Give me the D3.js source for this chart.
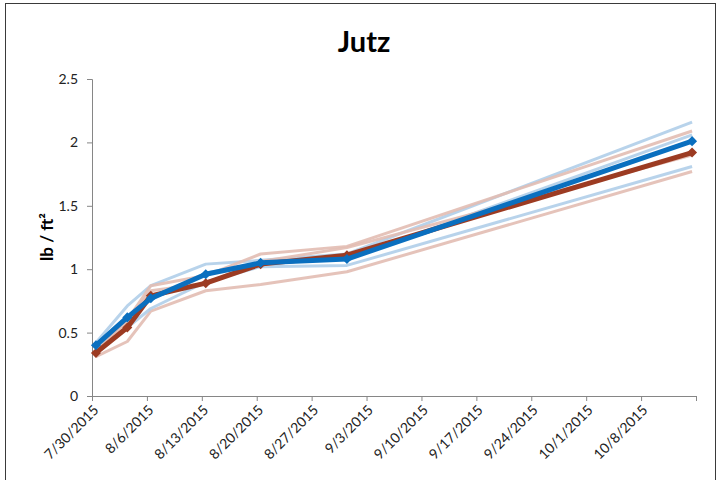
<!DOCTYPE html>
<html>
<head>
<meta charset="utf-8">
<script src="https://cdn.jsdelivr.net/npm/d3@7/dist/d3.min.js"></script>
<style>
  html, body { margin: 0; padding: 0; background: #fff; }
  svg { display: block; font-family: Lato, "Liberation Sans", sans-serif; }
</style>
</head>
<body>
<svg id="chart" width="718" height="480"></svg>
<script>
// Sampling dates and biomass (lb / ft²)
const sampleDates = ["2015-07-30", "2015-08-03", "2015-08-06", "2015-08-13", "2015-08-20", "2015-08-31", "2015-10-14"];

// Blue treatment: replicates and mean
const blueRep1 = [0.42, 0.71, 0.87, 1.04, 1.07, 1.12, 2.16];
const blueRep2 = [0.40, 0.62, 0.76, 0.97, 1.05, 1.08, 2.06];
const blueRep3 = [0.38, 0.54, 0.69, 0.90, 1.02, 1.03, 1.81];
const blueMean = [0.40, 0.62, 0.77, 0.96, 1.05, 1.08, 2.01];

// Red treatment: replicates and mean
const redRep1 = [0.36, 0.60, 0.87, 0.95, 1.12, 1.18, 2.09];
const redRep2 = [0.31, 0.43, 0.67, 0.83, 0.88, 0.98, 1.77];
const redRep3 = [0.35, 0.59, 0.83, 0.89, 1.06, 1.17, 1.90];
const redMean = [0.34, 0.54, 0.79, 0.89, 1.04, 1.11, 1.92];

// Axis ticks
const xTickDates = ["2015-07-30", "2015-08-06", "2015-08-13", "2015-08-20", "2015-08-27", "2015-09-03",
                    "2015-09-10", "2015-09-17", "2015-09-24", "2015-10-01", "2015-10-08", "2015-10-15"];
const xTickLabels = ["7/30/2015", "8/6/2015", "8/13/2015", "8/20/2015", "8/27/2015", "9/3/2015",
                     "9/10/2015", "9/17/2015", "9/24/2015", "10/1/2015", "10/8/2015", ""];
const yTicks = [0, 0.5, 1, 1.5, 2, 2.5];

const title = "Jutz";
const yTitle = "lb / ft²";

const parse = d3.utcParse("%Y-%m-%d");
const svg = d3.select("#chart");

// Outer chart frame
svg.append("rect")
  .attr("x", 5.5).attr("y", 3.5)
  .attr("width", 710).attr("height", 490)
  .attr("fill", "none").attr("stroke", "#3a3a3a").attr("stroke-width", 1);

const x = d3.scaleUtc()
  .domain([parse(xTickDates[0]), parse(xTickDates[xTickDates.length - 1])])
  .range([92, 696]);
const y = d3.scaleLinear().domain([0, 2.5]).range([396, 79]);

// Each day's value sits in the middle of its day on the date axis
const xPos = date => x(d3.utcHour.offset(date, 12));

// Title
svg.append("text")
  .attr("x", 364).attr("y", 52)
  .attr("text-anchor", "middle")
  .attr("font-size", 29).attr("font-weight", "bold")
  .attr("fill", "#000")
  .text(title);

// Y axis
const yAxis = svg.append("g")
  .attr("transform", `translate(${x.range()[0]},0)`)
  .call(d3.axisLeft(y).tickValues(yTicks).tickSize(5).tickPadding(9).tickFormat(d3.format("")));
yAxis.select(".domain").attr("stroke", "#868686");
yAxis.selectAll(".tick line").attr("stroke", "#868686");
yAxis.selectAll(".tick text").attr("font-size", 14).attr("fill", "#222")
  .attr("font-family", "Lato, 'Liberation Sans', sans-serif");

// X axis
const labelByTime = new Map(xTickDates.map((d, i) => [parse(d).getTime(), xTickLabels[i]]));
const xAxis = svg.append("g")
  .attr("transform", `translate(0,${y(0)})`)
  .call(d3.axisBottom(x)
    .tickValues(xTickDates.map(parse))
    .tickSize(5)
    .tickFormat(d => labelByTime.get(d.getTime())));
xAxis.select(".domain").attr("stroke", "#868686");
xAxis.selectAll(".tick line").attr("stroke", "#868686");
xAxis.selectAll(".tick text")
  .attr("font-size", 14).attr("fill", "#222")
  .attr("font-family", "Lato, 'Liberation Sans', sans-serif")
  .attr("text-anchor", "end")
  .attr("dy", null)
  .attr("y", 0)
  .attr("transform", "translate(7,15) rotate(-45)");

// Y axis title
svg.append("text")
  .attr("transform", "translate(53,237) rotate(-90)")
  .attr("text-anchor", "middle")
  .attr("font-size", 17).attr("font-weight", "bold")
  .attr("fill", "#000")
  .text(yTitle);

// Series
const toPoints = vals => vals.map((v, i) => ({ date: parse(sampleDates[i]), value: v }));
const line = d3.line().x(d => xPos(d.date)).y(d => y(d.value));

const replicates = [
  { vals: blueRep1, color: "#b0cee9" },
  { vals: redRep1, color: "#e2bcb2" },
  { vals: blueRep2, color: "#b0cee9" },
  { vals: redRep2, color: "#e2bcb2" },
  { vals: blueRep3, color: "#b0cee9" },
  { vals: redRep3, color: "#e2bcb2" }
];

svg.append("g").selectAll("path")
  .data(replicates)
  .join("path")
  .attr("d", d => line(toPoints(d.vals)))
  .attr("fill", "none")
  .attr("stroke", d => d.color)
  .attr("stroke-width", 3)
  .attr("stroke-opacity", 0.9)
  .attr("stroke-linejoin", "round");

const means = [
  { vals: redMean, color: "#9c3b22" },
  { vals: blueMean, color: "#0a6fbf" }
];

const diamond = d3.symbol().type(d3.symbolDiamond2).size(64);

means.forEach(m => {
  const pts = toPoints(m.vals);
  svg.append("path")
    .attr("d", line(pts))
    .attr("fill", "none")
    .attr("stroke", m.color)
    .attr("stroke-width", 5)
    .attr("stroke-linejoin", "round");
  svg.append("g").selectAll("path")
    .data(pts)
    .join("path")
    .attr("transform", d => `translate(${xPos(d.date)},${y(d.value)})`)
    .attr("d", diamond)
    .attr("fill", m.color);
});
</script>
</body>
</html>
